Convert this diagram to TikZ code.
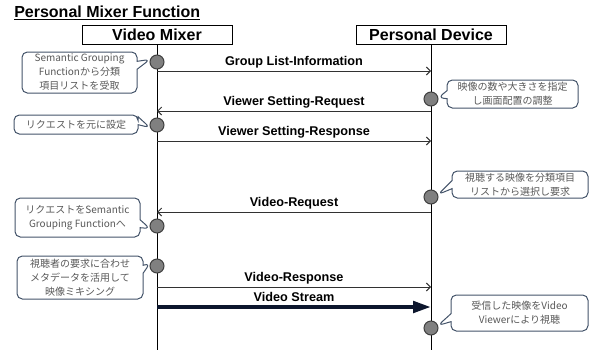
\documentclass[tikz,border=0pt]{standalone}
\usepackage{fontspec}
\setmainfont{Liberation Sans}
\newfontfamily\jpfont{Noto Sans CJK JP}
\usepackage{tikz}
\usetikzlibrary{arrows.meta, shapes.callouts}
\usepackage{xcolor}

\definecolor{noteline}{RGB}{68,84,106}
\definecolor{notetext}{RGB}{89,89,89}
\definecolor{streamcol}{RGB}{12,22,45}

\tikzset{
  headbox/.style={draw=black, line width=0.75pt, fill=white, inner sep=0pt,
    minimum width=112.5pt, minimum height=14.25pt, font=\fontsize{12}{14}\selectfont\bfseries},
  dot/.style={circle, draw={rgb,255:red,64;green,64;blue,64}, line width=0.75pt,
    fill={rgb,255:red,128;green,128;blue,128}, minimum size=10.5pt, inner sep=0pt},
  msg/.style={draw={rgb,255:red,50;green,50;blue,50}, line width=0.75pt, -{Straight Barb[length=3pt,width=6pt]}},
  msglbl/.style={above, inner sep=1.5pt, font=\fontsize{9.5}{11}\selectfont\bfseries},
  note/.style={rectangle callout, draw=noteline, line width=0.75pt, fill=white,
    rounded corners=4pt, callout pointer width=6pt, align=center, inner sep=0pt,
    text=notetext, font=\jpfont\fontsize{7.5}{10.5}\selectfont}
}

\begin{document}
\begin{tikzpicture}[x=0.75pt,y=0.75pt,yscale=-1,xscale=1]
\useasboundingbox (0,0) rectangle (592,350);

%Title
\node[anchor=base west, inner sep=0pt, font=\fontsize{12}{14}\selectfont\bfseries] (title) at (14,17) {\underline{Personal Mixer Function}};

%Heads and lifelines
\node[headbox] (vm) at (157,34.5) {Video Mixer};
\node[headbox] (pd) at (431,34.5) {Personal Device};
\coordinate (vmEnd) at (157,350);
\coordinate (pdEnd) at (431,350);
\draw[line width=0.75pt] (vm.south) -- (vmEnd);
\draw[line width=0.75pt] (pd.south) -- (pdEnd);

%Message ends
\coordinate (vm1) at (157,71);   \coordinate (pd1) at (431,71);
\coordinate (vm2) at (157,111);  \coordinate (pd2) at (431,111);
\coordinate (vm3) at (157,141);  \coordinate (pd3) at (431,141);
\coordinate (vm4) at (157,212);  \coordinate (pd4) at (431,212);
\coordinate (vm5) at (157,287);  \coordinate (pd5) at (431,287);
\coordinate (vm6) at (157,307);  \coordinate (pd6) at (431,307);

%Messages
\draw[msg] (vm1) -- node[msglbl] {Group List-Information} (pd1);
\draw[msg] (pd2) -- node[msglbl] {Viewer Setting-Request} (vm2);
\draw[msg] (vm3) -- node[msglbl] {Viewer Setting-Response} (pd3);
\draw[msg] (pd4) -- node[msglbl] {Video-Request} (vm4);
\draw[msg] (vm5) -- node[msglbl] {Video-Response} (pd5);
\draw[draw=streamcol, line width=3pt, -{Triangle[length=13.5pt,width=8.5pt]}] (vm6) -- node[msglbl, yshift=1pt] {Video Stream} (pd6);

%Activity points
\node[dot] (m1) at (157,62) {};
\node[dot] (m2) at (431,99) {};
\node[dot] (m3) at (157,125) {};
\node[dot] (m4) at (431,197) {};
\node[dot] (m5) at (157,226) {};
\node[dot] (m6) at (157,266) {};
\node[dot] (m7) at (431,328) {};

%Notes
\node[note, minimum width=86.25pt, minimum height=30.75pt, callout absolute pointer=(m1.160)] (n1) at (79.5,72.5)
  {Semantic Grouping\\Functionから分類\\項目リストを受取};
\node[note, minimum width=98.25pt, minimum height=21pt, callout absolute pointer=(m2.10)] (n2) at (512.5,94)
  {映像の数や大きさを指定\\し画面配置の調整};
\node[note, minimum width=93pt, minimum height=14.25pt, callout absolute pointer=(m3.200)] (n3) at (76,124.5)
  {リクエストを元に設定};
\node[note, minimum width=102pt, minimum height=20.25pt, callout absolute pointer=(m4.20)] (n4) at (520,184.5)
  {視聴する映像を分類項目\\リストから選択し要求};
\node[note, minimum width=93.75pt, minimum height=29.25pt, callout absolute pointer=(m5.200)] (n5) at (77.5,217.5)
  {リクエストをSemantic\\Grouping Functionへ};
\node[note, minimum width=94.5pt, minimum height=32.25pt, callout absolute pointer=(m6.160)] (n6) at (80,277.5)
  {視聴者の要求に合わせ\\メタデータを活用して\\映像ミキシング};
\node[note, minimum width=102.75pt, minimum height=27pt, callout absolute pointer=(m7.20)] (n7) at (519.5,313)
  {受信した映像をVideo\\Viewerにより視聴};

\end{tikzpicture}
\end{document}
